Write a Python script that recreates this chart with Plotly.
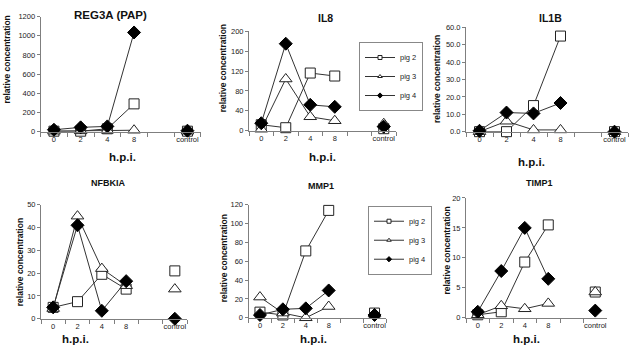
import plotly.graph_objects as go

W, H = 633, 353

categories = ["0", "2", "4", "8", " ", "control"]
series_names = ["pig 2", "pig 3", "pig 4"]

reg3a_pig2 = [5, 5, 30, 290, None, 5]
reg3a_pig3 = [5, 8, 15, 15, None, 5]
reg3a_pig4 = [20, 45, 55, 1035, None, 10]

il8_pig2 = [12, 6, 116, 110, None, 4]
il8_pig3 = [3, 104, 28, 20, None, 14]
il8_pig4 = [15, 175, 52, 48, None, 8]

il1b_pig2 = [0, 0, 15, 55, None, 0]
il1b_pig3 = [0, 6, 1, 1, None, 0]
il1b_pig4 = [0.5, 11, 10.5, 16.5, None, 0]

nfbkia_pig2 = [5, 7.5, 19.5, 13, None, 21]
nfbkia_pig3 = [4.5, 45, 22, 14.5, None, 13]
nfbkia_pig4 = [5, 41, 3.5, 16.5, None, 0]

mmp1_pig2 = [6, 3, 71, 114, None, 5]
mmp1_pig3 = [22, 5, 0, 12, None, 4]
mmp1_pig4 = [3, 9, 10, 29, None, 3]

timp1_pig2 = [0.5, 1, 9.3, 15.5, None, 4.3]
timp1_pig3 = [0.5, 2, 1.5, 2.4, None, 4.3]
timp1_pig4 = [1, 7.8, 15, 6.5, None, 1.2]

panel_titles = ["REG3A (PAP)", "IL8", "IL1B", "NFBKIA", "MMP1", "TIMP1"]
y_max = [1200, 200, 60, 50, 120, 20]
y_step = [200, 40, 10, 10, 20, 5]
y_format = ["", "", ".1f", "", "", ""]

panels = [
    (reg3a_pig2, reg3a_pig3, reg3a_pig4),
    (il8_pig2, il8_pig3, il8_pig4),
    (il1b_pig2, il1b_pig3, il1b_pig4),
    (nfbkia_pig2, nfbkia_pig3, nfbkia_pig4),
    (mmp1_pig2, mmp1_pig3, mmp1_pig4),
    (timp1_pig2, timp1_pig3, timp1_pig4),
]

# layout in pixels: (x0, x1, ytop, ybottom)
boxes = [
    (40.6, 200.8, 13, 131),
    (249, 396, 28, 130),
    (466, 628, 24, 131),
    (41, 187, 206, 323),
    (248.5, 386, 206, 322),
    (466, 607, 199, 322),
]
title_pos = [(110, 11, 11.5), (326, 14, 10.5), (550, 14, 10.5),
             (108, 184, 9), (321, 187, 9), (539, 184, 9)]
ytitle_pos = [(7, 57), (223, 66), (437, 77), (20, 265), (224, 261), (447, 253)]
hpi_pos = [(122, 157), (322, 157), (531, 162), (75, 344), (313, 344), (526, 344)]
legend_for_panel = {1: "legend", 4: "legend2"}

LINE = "#333333"
AX = "#7f7f7f"
styles = [
    dict(symbol="square", size=10, color="white", line=dict(color="#222", width=1)),
    dict(symbol="triangle-up", size=11, color="white", line=dict(color="#222", width=1)),
    dict(symbol="diamond", size=10, color="black", line=dict(color="black", width=1)),
]
legend_styles = [
    dict(symbol="square", size=4, color="white", line=dict(color="#222", width=1)),
    dict(symbol="triangle-up", size=4, color="white", line=dict(color="#222", width=1)),
    dict(symbol="diamond", size=4, color="black", line=dict(color="black", width=1)),
]

def px(x):
    return x / W

def py(y):
    return 1 - y / H

fig = go.Figure()
annotations = []
layout = {}
ann_common = dict(xref="paper", yref="paper", showarrow=False,
                  xanchor="center", yanchor="middle")
for i, data in enumerate(panels):
    n = "" if i == 0 else str(i + 1)
    xa, ya = "x" + n, "y" + n
    for s, vals in enumerate(data):
        fig.add_trace(go.Scatter(
            x=categories, y=vals, xaxis=xa, yaxis=ya, mode="lines+markers",
            line=dict(color=LINE, width=1), marker=styles[s], connectgaps=False,
            cliponaxis=False, showlegend=False, name=series_names[s]))
    if i in legend_for_panel:
        for s in range(3):
            fig.add_trace(go.Scatter(
                x=[None], y=[None], xaxis=xa, yaxis=ya, mode="lines+markers",
                line=dict(color=LINE, width=1), marker=legend_styles[s],
                name=series_names[s], showlegend=True, legend=legend_for_panel[i]))
    x0, x1, yt, yb = boxes[i]
    layout["xaxis" + n] = dict(
        domain=[px(x0), px(x1)], anchor=ya, type="category",
        categoryorder="array", categoryarray=categories, range=[-0.5, 5.5],
        tickson="boundaries", ticks="outside", ticklen=4, tickcolor=AX,
        tickangle=0, showline=True, linecolor=AX, linewidth=1, showgrid=False,
        zeroline=False, tickfont=dict(size=7.5, color="#222"), fixedrange=True)
    layout["yaxis" + n] = dict(
        domain=[py(yb), py(yt)], anchor=xa, range=[0, y_max[i]], dtick=y_step[i],
        tick0=0, tickformat=y_format[i], ticks="outside", ticklen=3, tickcolor=AX,
        showline=True, linecolor=AX, linewidth=1, showgrid=False, zeroline=False,
        tickfont=dict(size=7.5, color="#222"), fixedrange=True)
    tx, ty, ts = title_pos[i]
    annotations.append(dict(text="<b>" + panel_titles[i] + "</b>", x=px(tx), y=py(ty),
                            font=dict(size=ts, color="#111"), **ann_common))
    ux, uy = ytitle_pos[i]
    annotations.append(dict(text="<b>relative concentration</b>", x=px(ux), y=py(uy),
                            textangle=-90, font=dict(size=8.5, color="#111"),
                            **ann_common))
    hx, hy = hpi_pos[i]
    annotations.append(dict(text="<b>h.p.i.</b>", x=px(hx), y=py(hy),
                            font=dict(size=11.5, color="#111"), **ann_common))

leg_common = dict(bgcolor="white", bordercolor="#888", borderwidth=1,
                  font=dict(size=7.5, color="#222"), itemwidth=30,
                  xanchor="left", yanchor="top", tracegroupgap=0)
fig.update_layout(
    width=W, height=H, margin=dict(l=0, r=0, t=0, b=0),
    paper_bgcolor="white", plot_bgcolor="white",
    font=dict(family="Liberation Sans, Arial, sans-serif"),
    annotations=annotations,
    legend=dict(x=px(359), y=py(39), **leg_common),
    legend2=dict(x=px(368), y=py(207), **leg_common),
    **layout,
)
fig.write_html("out.html")
